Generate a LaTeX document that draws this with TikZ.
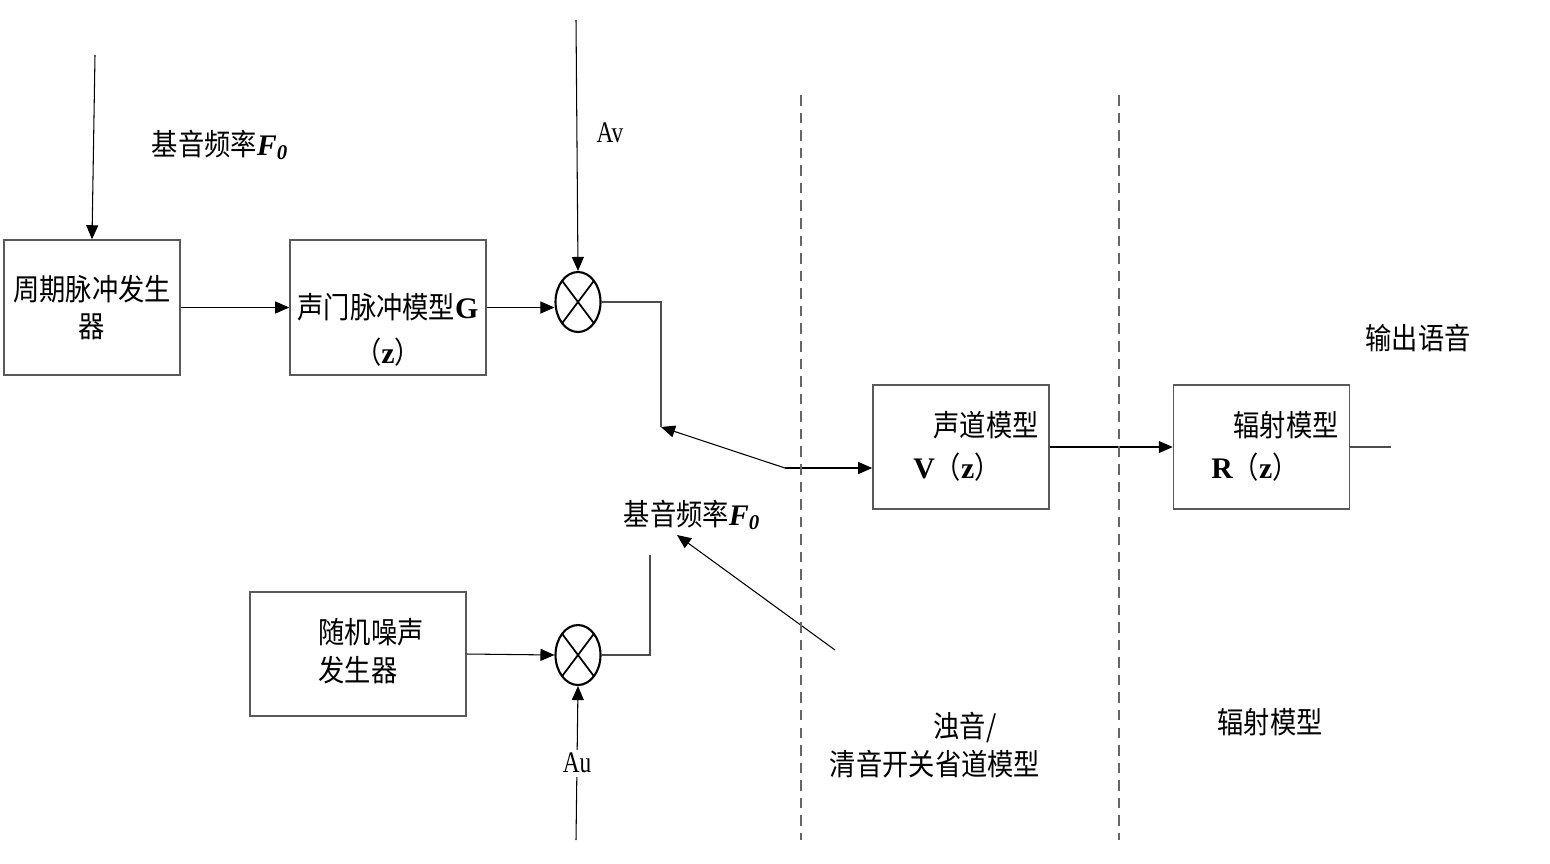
\documentclass[tikz,border=0pt]{standalone}
\usepackage{fontspec}
\setmainfont{Liberation Serif}
\newfontfamily\cjk[FakeStretch=0.88]{Noto Sans CJK SC}
\newfontfamily\narrowserif[FakeStretch=0.78]{Liberation Serif}
\newcommand\cjkfnt{\fontsize{17}{21.5}\selectfont\cjk}
\newcommand\fzero{{\rmfamily\bfseries\itshape F\textsubscript{0}}}
\usetikzlibrary{arrows.meta,shapes.geometric}
\tikzset{
  blk/.style  ={draw=black!65,line width=0.9pt,align=center,font=\cjkfnt,
                minimum width=3.52cm,minimum height=2.7cm,inner sep=2pt},
  mult/.style ={draw,ellipse,line width=1.2pt,minimum width=0.9cm,minimum height=1.2cm,inner sep=0pt,
                path picture={\draw[line width=1pt]
                  (path picture bounding box.north west) -- (path picture bounding box.south east)
                  (path picture bounding box.north east) -- (path picture bounding box.south west);}},
  lbl/.style  ={font=\cjkfnt,inner sep=1pt,align=left},
  gain/.style ={font=\fontsize{17}{20}\selectfont\narrowserif,inner sep=2pt},
  flow/.style ={-{Triangle[length=2.8mm,width=2.4mm]},line width=0.6pt},
  wire/.style ={line width=0.9pt,black!70},
  sep/.style  ={dash pattern=on 6pt off 4pt,black!60,line width=0.7pt},
}
\begin{document}
\begin{tikzpicture}[x=0.02cm,y=-0.02cm]
\useasboundingbox (0,0) rectangle (1550,863);
% voiced branch
\node[blk] (pulse) at (92,307.5) {周期脉冲发生\\器};
\node[blk,minimum width=3.92cm] (glottal) at (388,307.5) {};
\node[lbl,align=center] (glottaltxt) at (388,330) {声门脉冲模型{\rmfamily\bfseries G}\\[4pt]（{\rmfamily\bfseries z}）};
\node[mult] (mulv) at (578,302) {};
\node[lbl] (f0a) at (220,145) {基音频率\fzero};
\node[gain] (av) at (610,133) {Av};
\coordinate (f0top) at (95,55);
\coordinate (avtop) at (576,20);
\draw[flow] (f0top) -- (pulse.north);
\draw[flow] (pulse) -- (glottal);
\draw[flow] (glottal.east) -- (glottal.east -| mulv.west);
\draw[flow] (avtop) -- (mulv.north);
% unvoiced branch
\node[blk,minimum width=4.32cm,minimum height=2.48cm] (noise) at (358,654) {};
\node[lbl] (noisetxt) at (371,651) {随机噪声\\发生器};
\node[mult] (mulu) at (578,655) {};
\coordinate (aubot) at (576,840);
\draw[flow] (noise.east) -- (mulu.west);
\draw[flow] (aubot) -- (mulu.south) node[gain,pos=0.5,fill=white] (au) {Au};
% switch
\coordinate (swv) at (661,427);
\coordinate (swu) at (650,555);
\coordinate (pivot) at (785,468);
\coordinate (armend) at (835,650);
\coordinate (armtip) at (677,535);
\node[lbl] (f0b) at (692,515) {基音频率\fzero};
\draw[wire] (mulv.east) -| (swv);
\draw[wire] (mulu.east) -| (swu);
\draw[flow] (pivot) -- (swv);
\draw[flow] (armend) -- (armtip);
% vocal tract and radiation
\node[blk,minimum height=2.48cm] (vtract) at (961,447) {};
\node[lbl] (vtracta) at (986,425) {声道模型};
\node[lbl] (vtractb) at (957,467) {{\rmfamily\bfseries V}（{\rmfamily\bfseries z}）};
\node[blk,minimum height=2.48cm] (radiat) at (1261.5,447) {};
\node[lbl] (radiata) at (1286,425) {辐射模型};
\node[lbl] (radiatb) at (1255,467) {{\rmfamily\bfseries R}（{\rmfamily\bfseries z}）};
\coordinate (outend) at (1391,447);
\draw[flow] (pivot) -- (pivot -| vtract.west);
\draw[flow] (vtract) -- (radiat);
\draw[wire] (radiat.east) -- (outend);
\node[lbl] (speech) at (1418,338) {输出语音};
% stage separators
\coordinate (sepa1) at (801,95);  \coordinate (sepa2) at (801,840);
\coordinate (sepb1) at (1119,95); \coordinate (sepb2) at (1119,840);
\draw[sep] (sepa1) -- (sepa2);
\draw[sep] (sepb1) -- (sepb2);
\node[lbl,align=center] (stagea) at (935,745) {\hspace*{2em}浊音/\\清音开关省道模型};
\node[lbl] (stageb) at (1270,722) {辐射模型};
\end{tikzpicture}
\end{document}
